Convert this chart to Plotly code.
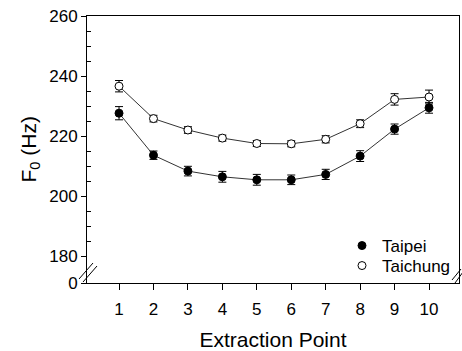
import plotly.graph_objects as go

points = [1, 2, 3, 4, 5, 6, 7, 8, 9, 10]
taipei = [227.6, 213.6, 208.3, 206.4, 205.4, 205.4, 207.2, 213.3, 222.3, 229.4]
taipei_err = [2.2, 1.4, 1.6, 1.8, 1.8, 1.6, 1.7, 1.8, 1.7, 1.8]
taichung = [236.6, 225.8, 222.0, 219.3, 217.5, 217.4, 218.9, 224.1, 232.2, 233.0]
taichung_err = [1.9, 1.1, 1.1, 1.0, 1.0, 1.0, 1.2, 1.3, 1.9, 2.3]

y_tickvals = [171, 180, 200, 220, 240, 260]
y_ticktext = ["0", "180", "200", "220", "240", "260"]
y_minor = [185, 190, 195, 205, 210, 215, 225, 230, 235, 245, 250, 255]

FONT = "Liberation Sans, Arial, sans-serif"
W, H = 462, 351
ML, MR, MT, MB = 87, 3, 16, 68
PW, PH = W - ML - MR, H - MT - MB


def px_x(p):
    return (p - ML) / PW


def px_y(p):
    return (MT + PH - p) / PH


fig = go.Figure()

series = [("Taipei", taipei, taipei_err, "black", "legend", 246),
          ("Taichung", taichung, taichung_err, "white", "legend2", 266)]
for name, ys, errs, fill, leg, _ in series:
    fig.add_trace(go.Scatter(x=points, y=ys, mode="lines", showlegend=False,
                             line=dict(color="#333333", width=1), hoverinfo="skip"))
    fig.add_trace(go.Scatter(
        x=points, y=ys, mode="markers", name=name, legend=leg,
        marker=dict(symbol="circle", size=8, color=fill,
                    line=dict(color="black", width=1)),
        error_y=dict(type="data", array=errs, visible=True, color="black",
                     thickness=1, width=4),
    ))

shapes = []
for (x0, y0, x1, y1) in [(79, 279, 93, 263), (83, 282, 97, 266),
                         (452, 280, 461, 269), (455, 283, 463, 272)]:
    shapes.append(dict(type="line", xref="paper", yref="paper",
                       x0=px_x(x0), y0=px_y(y0), x1=px_x(x1), y1=px_y(y1),
                       line=dict(color="black", width=1)))

legend_common = dict(xanchor="left", yanchor="middle", bgcolor="rgba(0,0,0,0)",
                     font=dict(size=17, family=FONT), itemsizing="trace")

fig.update_layout(
    width=W, height=H,
    margin=dict(l=ML, r=MR, t=MT, b=MB, pad=0),
    paper_bgcolor="white", plot_bgcolor="white",
    font=dict(family=FONT, size=17, color="black"),
    showlegend=True,
    legend=dict(x=px_x(342), y=px_y(series[0][5]), **legend_common),
    legend2=dict(x=px_x(342), y=px_y(series[1][5]), **legend_common),
    shapes=shapes,
    annotations=[dict(text="F<sub>0</sub> (Hz)", xref="paper", yref="paper",
                      x=0, y=0.5, xanchor="center", yanchor="middle",
                      xshift=-58, textangle=-90, showarrow=False,
                      font=dict(size=21, family=FONT))],
)

fig.update_xaxes(
    range=[0.07, 10.87], tickvals=points, ticks="outside", ticklen=6,
    tickwidth=1, tickcolor="black", showline=True, linecolor="black",
    linewidth=1, mirror=True, showgrid=False, zeroline=False,
    ticklabelstandoff=5,
    title=dict(text="Extraction Point", font=dict(size=21, family=FONT), standoff=13),
    tickfont=dict(size=17),
)
fig.update_yaxes(
    range=[171, 260], tickvals=y_tickvals, ticktext=y_ticktext,
    ticks="outside", ticklen=5, tickwidth=1, tickcolor="black",
    showline=True, linecolor="black", linewidth=1, mirror=True,
    showgrid=False, zeroline=False, tickfont=dict(size=17),
    minor=dict(tickmode="array", tickvals=y_minor, ticks="inside",
               ticklen=4, tickwidth=1, tickcolor="black", showgrid=False),
)

fig.write_html("out.html")
